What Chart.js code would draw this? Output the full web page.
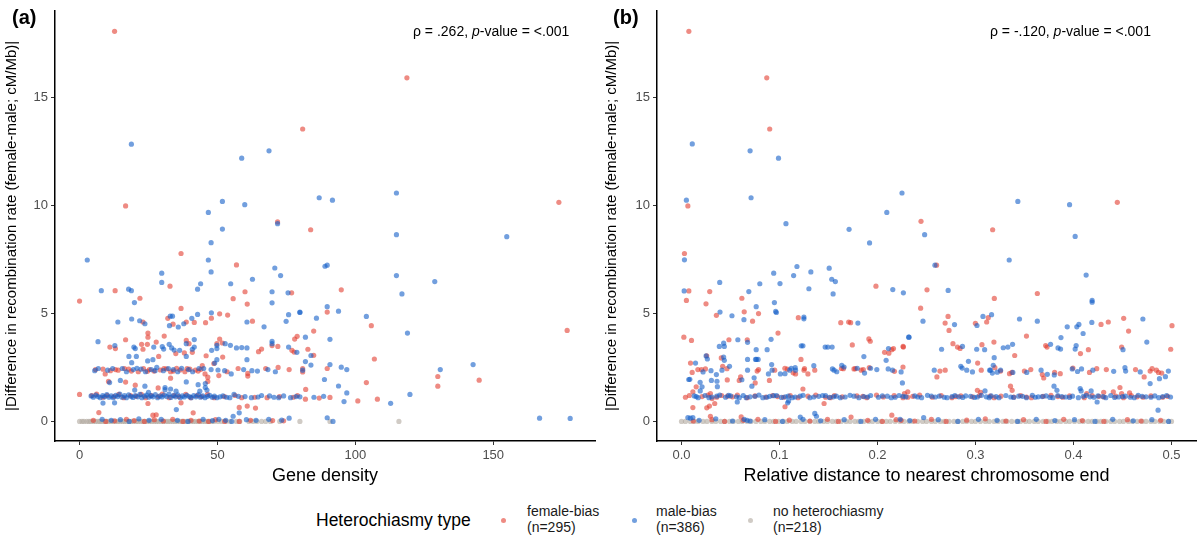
<!DOCTYPE html>
<html>
<head>
<meta charset="utf-8">
<script src="https://cdn.jsdelivr.net/npm/chart.js@4.4.0/dist/chart.umd.min.js"></script>
<style>
  html, body { margin: 0; padding: 0; background: #fff; }
  body { width: 1200px; height: 540px; position: relative; overflow: hidden; font-family: "Liberation Sans", Arial, sans-serif; color: #000; }
  canvas { position: absolute; top: 0; }
  .tag { position: absolute; top: 6px; font-weight: bold; font-size: 20px; }
  .stat { position: absolute; top: 23px; font-size: 14px; white-space: nowrap; }
  .legend { position: absolute; top: 503px; font-size: 14px; line-height: 16px; color: #1a1a1a; white-space: nowrap; }
  .legend-title { position: absolute; top: 510px; left: 316px; font-size: 17.5px; white-space: nowrap; }
  .dot { position: absolute; top: 518px; width: 5px; height: 5px; border-radius: 50%; }
</style>
</head>
<body>
<canvas id="chartA" width="600" height="495" style="left:0"></canvas>
<canvas id="chartB" width="600" height="495" style="left:600px"></canvas>

<div class="tag" style="left:12px">(a)</div>
<div class="tag" style="left:613px">(b)</div>
<div class="stat" style="left:413px">&rho; = .262, <i>p</i>-value = &lt;.001</div>
<div class="stat" style="left:990px">&rho; = -.120, <i>p</i>-value = &lt;.001</div>

<div class="legend-title">Heterochiasmy type</div>
<div class="dot" style="left:501px; background:rgba(226,62,48,0.6)"></div>
<div class="legend" style="left:527px">female-bias<br>(n=295)</div>
<div class="dot" style="left:632px; background:rgba(20,95,200,0.6)"></div>
<div class="legend" style="left:656px">male-bias<br>(n=386)</div>
<div class="dot" style="left:748px; background:rgba(176,169,159,0.6)"></div>
<div class="legend" style="left:773px">no heterochiasmy<br>(n=218)</div>

<script>
// ===========================
// Data
// ===========================

const yTicks = [0, 5, 10, 15];
const xTicksA = [0, 50, 100, 150];
const xTicksB = [0, 0.1, 0.2, 0.3, 0.4, 0.5];

// (a) gene density vs |difference|
const aFemale = [
  [12.7,18.05],[118.7,15.9],[80.9,13.53],[16.7,9.97],[71.8,9.23],[83.8,8.87],[36.8,7.77],[56.9,7.24],[173.8,10.14],
  [32.8,6.26],[12.9,6.05],[60.0,6.0],[76.9,5.95],[21.9,5.7],[55.7,5.68],[0,5.57],[60.8,5.43],[94.9,6.09],[89.8,5.06],
  [105.8,4.43],[84.9,4.18],[176.8,4.21],[82.8,3.34],[84.9,3.06],[106.9,2.89],[80.9,2.45],[80.9,2.29],[89.8,2.45],
  [129.9,2.08],[129.9,1.63],[144.9,1.91],[104,1.8],[82,1.48],[81.9,1.03],[86.9,1.08],[90.8,1.11],[100.9,0.95],[108,1.03],
  [16.7,3.78],[23,4.6],[24.8,4.09],[24.8,3.9],[27.8,3.67],[30.7,3.95],[32,4.77],[33.9,4.5],[36.8,5.23],[38.7,4.6],
  [41.6,4.58],[45.7,4.57],[47.8,4.78],[50.8,4.98],[53.7,4.92],[62.7,4.64],[24.6,3.57],[23,3.34],[11,3.44],[13,3.37],
  [22.5,3.57],[28.7,3.01],[34.9,3.14],[38,3.17],[38.7,3.75],[39.7,3.6],[40.9,3.2],[45.9,3.04],[49.8,3.6],[50.8,3.81],
  [51.8,3.63],[51.9,2.98],[48.7,2.68],[64.9,3.23],[66,3.35],[69.8,3.51],[71.9,3.47],[77.8,3.21],[77,3.29],[78,3.81],[78.9,3.94],
  [5.8,2.4],[8.5,2.42],[9.3,2.2],[13,2.4],[14,2.37],[17.8,2.42],[18.8,2.33],[21.3,2.3],[23.2,2.44],[25.3,2.4],[27,2.33],
  [29.3,2.38],[31.5,2.43],[33,2.3],[35.2,2.46],[36.5,2.38],[38.2,2.3],[40,2.42],[42,2.38],[44,2.41],[45.5,2.2],[46.5,2.05],
  [50.5,2.12],[53.5,2.3],[57.5,2.45],[61,2.22],[61,2.1],[67.5,2.45],[72,2.5],[76,2.4],
  [11.2,2.35],[16.3,2.45],[24.6,2.32],[30.6,2.45],[34,2.33],[39,2.45],[43,2.33],
  [7.0,0.41],[24.8,0.83],[26.6,0.29],[27.8,0.31],[36.8,0.86],[41.2,0.4],[57.9,0.65],[60.8,0.71],[63.8,0.62],
  [10.5,1.85],[16.7,1.82],[20.2,1.68],[28.5,1.55],[33,2.0],[44.5,2.58],[46.5,1.85],
  [0,1.25],[4.5,1.2],[6.2,1.26],[8.5,1.12],[10,1.2],[12.5,1.15],[14.2,1.25],[16,1.1],[18.5,1.2],[20.5,1.16],[22.4,1.25],
  [24,1.1],[26,1.2],[28.5,1.15],[30,1.26],[32.5,1.1],[34.3,1.2],[36,1.15],[38.5,1.25],[40.3,1.1],[42.6,1.2],[44.2,1.15],
  [46.4,1.25],[48.8,1.1],[52.5,1.15],[56.4,1.2],[58.8,1.1],[63.5,1.12],[68,1.1],[72.5,1.15],[77.5,1.12],[79,1.2],
  [5,0.05],[9.5,0],[12.7,0.03],[17,0.1],[19.8,0.04],[23.5,0],[27.1,0.08],[30.4,0.02],[33.8,0.1],[37.5,0],[40.4,0.05],
  [43.4,0.02],[46.8,0],[49.3,0.08],[52.6,0],[57.9,0],[62,0.05],[70,0.04],[74,0.03]
];

const aMale = [
  [18.8,12.83],[58.8,12.18],[68.7,12.52],[51.8,10.18],[59.9,10.03],[46.7,9.67],[86.9,10.35],[91.7,10.24],[71.8,9.15],
  [51.8,8.9],[47.7,8.27],[2.8,7.47],[46.7,7.47],[47.7,6.92],[70.8,7.1],[72.9,6.75],[62.7,6.58],[29.8,6.86],[29.8,6.43],
  [43.9,6.37],[42.8,6.12],[54.8,6.37],[7.9,6.05],[17.8,6.12],[18.8,6.05],[69.8,6.0],[75.6,5.95],[89,7.18],[89.8,7.23],
  [114.9,10.57],[114.9,8.64],[154.9,8.55],[114.9,6.75],[128.8,6.47],[116.9,5.9],[79.9,5.06],[89.8,5.31],[93.9,5.1],
  [85.9,4.78],[104,4.86],[118.9,4.09],[81.9,3.9],[90.8,3.8],[83.9,3.05],[81.9,2.77],[83.9,2.61],[90.8,2.63],[94.9,2.51],
  [96.9,2.4],[80.9,2.37],[130.8,2.4],[142.7,2.63],[88.8,1.94],[93.9,1.64],[96.9,1.32],[79.9,1.14],[95.9,0.92],[112.8,0.84],
  [119.8,1.25],[89.8,0.17],[91.9,0],[166.8,0.15],[177.9,0.14],
  [19.9,5.5],[69.8,5.49],[6.7,3.69],[13.9,4.6],[18.9,4.74],[21.8,4.66],[23.7,4.52],[32.9,4.87],[33.7,4.87],[32.6,4.43],
  [35.8,4.37],[37.8,4.52],[40.7,4.77],[42.8,4.95],[47.8,5.03],[60.7,4.6],[66.9,4.38],[74.9,4.63],[75.8,4.94],[79.9,5.04],
  [19.7,3.44],[20.2,3.37],[12.8,3.51],[17.9,3.01],[18.9,2.72],[20.6,3.01],[24.7,2.8],[26.6,2.86],[26.9,3.44],[30,3.46],
  [30.5,3.35],[32.5,3.57],[33.4,3.4],[34.3,3.3],[36.3,3.29],[38.7,3.01],[38.7,3.6],[41.6,3.79],[41.6,3.44],[40.9,3.34],
  [47.9,3.29],[49.8,3.37],[49.8,3.52],[49,2.7],[52.8,3.6],[54.7,3.52],[56.9,3.4],[58.8,3.42],[60.7,3.4],[49.8,2.86],
  [60.7,2.86],[69.8,3.6],[69.8,3.71],[75.8,3.44],[78.8,3.2],
  [14.8,1.9],[10.9,1.8],[23.7,1.63],[31,1.57],[31,1.47],[38.7,1.83],[45.6,1.75],[45.6,1.57],[12.7,0.86],[35.1,0.55],
  [55.7,0.24],[57.9,0.4],[8.5,0.85],[43,1.7],
  [6.8,2.45],[10.2,2.37],[15.5,2.45],[19.5,2.4],[20.8,2.46],[23.9,2.3],[26,2.4],[28,2.5],[30.4,2.35],[32.2,2.45],[34,2.4],
  [37,2.46],[39.5,2.4],[41,2.3],[43.3,2.45],[47.7,2.4],[52.6,2.35],[55,2.2],[59.5,2.4],[62.5,2.35],[64.5,2.33],[68.3,2.4],[71,2.3],
  [5.5,2.35],[12,2.45],[17,2.3],[22.3,2.42],[27.4,2.35],[35.6,2.3],[45,2.45],[50.2,2.38],
  [4.2,1.18],[5.0,1.12],[5.9,1.22],[6.7,1.15],[7.5,1.1],[8.4,1.2],[9.1,1.14],[9.9,1.24],[10.7,1.12],[11.5,1.18],[12.2,1.1],
  [13.1,1.21],[13.8,1.15],[14.6,1.26],[15.4,1.12],[16.3,1.19],[17.0,1.1],[17.8,1.23],[18.7,1.15],[19.4,1.11],[20.2,1.2],
  [21.1,1.14],[21.9,1.25],[22.6,1.1],[23.5,1.17],[24.3,1.22],[25.1,1.12],[25.9,1.19],[26.6,1.14],[27.5,1.24],[28.3,1.1],
  [29.2,1.18],[29.9,1.13],[30.7,1.22],[31.6,1.15],[32.4,1.26],[33.1,1.11],[34.0,1.2],[34.8,1.14],[35.6,1.23],[36.5,1.1],
  [37.3,1.18],[38.0,1.13],[38.9,1.21],[39.8,1.15],[40.5,1.1],[41.4,1.2],[42.2,1.14],[43.1,1.24],[43.8,1.12],[44.7,1.18],
  [45.5,1.1],[46.4,1.16],[47.2,1.21],[48.1,1.12],[48.9,1.17],[49.8,1.1],[50.9,1.14],
  [52,1.18],[54.5,1.1],[56,1.25],[60,1.15],[62.3,1.1],[66,1.2],[70.5,1.12],[74,1.18],[76.5,1.1],[43.6,1.4],[35,1.4],
  [33,1.5],[46.2,1.45],[25,1.35],[20,1.45],
  [53.3,1.12],[57.6,1.16],[64.7,1.13],[68.9,1.18],[72.2,1.1],[78.5,1.15],[85,1.12],[88.5,1.16],
  [8.2,0.1],[11.5,0.05],[14.8,0.08],[18,0],[21.5,0.12],[25.2,0.05],[29.6,0.1],[35.5,0.05],[39.3,0],[44.8,0.1],[48.2,0.04],
  [50.5,0.1],[53,0.05],[55.2,0],[60.5,0.08],[64,0.05],[68.6,0.1],[73.3,0.06],[76,0.15]
];

const aNone = [
  [0,0],[0.9,0],[1.6,0],[2.6,0],[3.4,0],[4.1,0],[5.0,0],[5.8,0],[6.7,0],[7.4,0],[8.1,0],[9.0,0],[9.8,0],[10.6,0],
  [11.4,0],[12.2,0],[13.1,0],[13.9,0],[14.7,0],[15.6,0],[16.3,0],[17.1,0],[18.0,0],[18.8,0],[19.6,0],[20.5,0],[21.2,0],
  [22.1,0],[22.9,0],[23.7,0],[24.6,0],[25.4,0],[26.2,0],[27.1,0],[27.9,0],[28.7,0],[29.6,0],[30.4,0],[31.3,0],[32.1,0],
  [32.9,0],[33.8,0],[34.6,0],[35.4,0],[36.3,0],[37.1,0],[37.9,0],[38.8,0],[39.6,0],[40.5,0],[41.3,0],[42.1,0],[43.0,0],
  [43.8,0],[44.6,0],[45.5,0],[46.3,0],[47.1,0],[48.0,0],[48.8,0],[50.2,0],[51.5,0],[53.1,0],[54.6,0],[56.8,0],[58.1,0],
  [61.4,0],[62.9,0],[64.3,0],[66.0,0],[67.5,0],[69.2,0],[72.6,0],[79.9,0],[90.8,0],[115.8,0]
];

// (b) relative distance to chromosome end vs |difference|
const bFemale = [
  [0.0075,18.05],[0.087,15.9],[0.090,13.53],[0.0065,9.97],[0.2444,9.26],[0.003,7.77],[0.0075,6.04],[0.0288,6.01],
  [0.0616,5.7],[0.1984,6.26],[0.005,5.6],[0.4447,10.14],[0.3175,8.87],[0.2603,7.23],[0.2505,6.09],[0.3192,5.69],
  [0.3631,5.92],[0.244,5.24],[0.269,4.55],[0.272,4.86],[0.273,4.21],[0.2999,4.54],[0.3114,4.6],[0.313,4.8],[0.3188,3.67],
  [0.3198,2.49],[0.2261,3.47],[0.277,3.6],[0.2816,3.44],[0.2843,3.38],[0.3066,3.55],[0.34,3.05],[0.352,3.95],[0.3716,3.51],
  [0.373,3.44],[0.4071,3.14],[0.4152,3.32],[0.4281,4.49],[0.4355,4.6],[0.4512,4.77],[0.4562,4.18],[0.4491,3.44],
  [0.5005,4.43],[0.4992,3.34],
  [0.025,5.44],[0.0356,4.91],[0.064,5.07],[0.0725,4.64],[0.0786,4.99],[0.1192,4.8],[0.1625,4.57],[0.1706,4.6],[0.1726,4.57],
  [0.0024,3.9],[0.0102,3.75],[0.0092,2.7],[0.0109,2.27],[0.0116,1.37],[0.0116,0.64],[0.015,1.6],[0.0167,2.4],[0.0204,2.4],
  [0.0244,2.43],[0.0258,0.63],[0.0295,0.24],[0.0285,0.71],[0.0257,3.04],[0.0295,1.29],[0.0312,1.06],[0.0339,0.83],
  [0.0406,2.94],[0.042,2.55],[0.0464,2.44],[0.0467,1.92],[0.0484,3.78],[0.0589,1.9],[0.0603,2.06],[0.0671,3.78],[0.0609,0.21],
  [0.0772,2.33],[0.0786,2.4],[0.0752,1.78],[0.0897,1.9],[0.0951,2.37],[0.0985,4.09],[0.1056,0.68],[0.1055,2.46],[0.108,2.42],
  [0.114,2.25],[0.1164,2.2],[0.125,2.37],[0.1255,2.45],[0.129,2.2],[0.1219,2.87],[0.1239,1.5],[0.136,2.37],[0.1455,0.83],
  [0.1632,2.45],[0.1652,2.44],[0.1743,3.54],[0.176,2.43],[0.1773,2.44],[0.1834,2.37],[0.1855,2.4],[0.1916,2.49],[0.1912,3.82],
  [0.1926,3.71],[0.2072,3.2],[0.2116,3.16],[0.2146,3.32],[0.2163,3.37],[0.2173,2.32],[0.226,2.52],[0.2264,3.44],[0.2146,0.29],
  [0.2241,0.05],
  [0.2606,2.06],[0.2637,2.33],[0.2691,2.37],[0.3022,2.7],[0.3059,2.37],[0.3256,2.33],[0.3347,2.21],[0.3371,2.27],[0.3499,2.33],
  [0.3564,2.4],[0.3682,2.17],[0.3696,2.01],[0.3807,2.27],[0.3865,2.21],[0.3994,2.47],[0.4163,2.27],[0.4237,2.44],[0.4335,2.4],
  [0.4633,2.4],[0.4721,2.06],[0.4782,2.33],[0.4802,2.44],[0.4846,2.37],[0.4867,2.27],[0.49,2.24],
  [0.2309,1.37],[0.3019,1.44],[0.3053,1.35],[0.3357,1.63],[0.3374,1.44],[0.4135,1.29],[0.4308,1.35],[0.4406,1.37],
  [0.4474,1.57],[0.4491,1.29],[0.4572,1.32],[0.2275,1.29],
  [0.008,1.2],[0.021,1.15],[0.027,1.22],[0.036,1.12],[0.041,1.2],[0.052,1.14],[0.057,1.22],[0.067,1.1],[0.075,1.18],
  [0.086,1.13],[0.093,1.2],[0.104,1.12],[0.111,1.19],[0.119,1.1],[0.129,1.17],[0.137,1.22],[0.147,1.12],[0.156,1.2],
  [0.164,1.14],[0.179,1.18],[0.189,1.1],[0.199,1.22],[0.206,1.13],[0.217,1.19],[0.226,1.1],[0.236,1.16],[0.243,1.22],
  [0.256,1.12],[0.265,1.2],[0.276,1.1],[0.285,1.18],[0.297,1.14],[0.304,1.2],[0.319,1.1],[0.326,1.17],[0.339,1.13],
  [0.346,1.2],[0.357,1.1],[0.369,1.16],[0.377,1.21],[0.389,1.12],[0.396,1.18],[0.411,1.1],[0.419,1.2],[0.431,1.13],
  [0.443,1.17],[0.451,1.1],[0.459,1.2],[0.471,1.12],[0.479,1.18],[0.491,1.12],
  [0.004,1.12],[0.047,1.17],[0.098,1.15],[0.152,1.1],[0.185,1.16],[0.231,1.12],[0.28,1.15],[0.315,1.17],[0.352,1.13],
  [0.384,1.15],[0.426,1.16],[0.465,1.14],[0.496,1.16],
  [0.012,0.02],[0.031,0.08],[0.044,0],[0.063,0.05],[0.078,0.1],[0.096,0],[0.11,0.06],[0.131,0.02],[0.149,0.1],[0.16,0],
  [0.173,0.2],[0.19,0.05],[0.205,0],[0.219,0.08],[0.238,0.02],[0.255,0.1],[0.27,0],[0.291,0.06],[0.31,0.12],[0.331,0.02],
  [0.349,0.08],[0.372,0],[0.39,0.1],[0.409,0.04],[0.431,0],[0.455,0.08],[0.469,0.02],[0.489,0.05]
];

const bMale = [
  [0.011,12.84],[0.070,12.52],[0.099,12.18],[0.005,10.24],[0.071,10.35],[0.2095,9.67],[0.225,10.57],[0.1066,9.15],
  [0.171,8.89],[0.1919,8.26],[0.003,7.48],[0.1178,7.17],[0.1144,6.75],[0.0941,6.86],[0.1005,6.38],[0.0799,6.37],
  [0.132,6.92],[0.1507,7.09],[0.1533,6.58],[0.157,6.47],[0.039,6.43],[0.0687,6.01],[0.130,6.14],[0.1547,5.9],[0.2156,6.1],
  [0.2264,5.95],[0.0027,6.04],[0.3432,10.18],[0.396,10.03],[0.2481,8.64],[0.4017,8.56],[0.3344,7.47],[0.2586,7.23],
  [0.4129,6.77],[0.2721,6.06],[0.419,5.6],[0.2464,4.64],[0.2786,4.48],[0.3015,4.44],[0.3076,4.86],[0.3164,4.94],
  [0.3191,2.95],[0.3181,2.6],[0.3222,2.28],[0.3154,2.37],[0.3256,2.37],[0.2318,3.9],[0.2654,3.34],[0.2867,3.47],
  [0.3012,3.34],[0.3093,3.32],[0.3283,3.41],[0.333,3.44],[0.3378,3.57],[0.3449,4.74],[0.3631,4.64],[0.3766,3.57],
  [0.3842,3.4],[0.3868,3.35],[0.3872,3.88],[0.3936,4.38],[0.4034,4.38],[0.4055,4.49],[0.4017,3.35],[0.4027,3.51],
  [0.4098,4.07],[0.419,5.52],[0.4187,4.58],[0.4708,4.74],[0.4748,3.67],[0.4505,3.32],
  [0.0393,5.06],[0.0637,4.71],[0.0515,4.89],[0.0762,5.31],[0.0948,5.5],[0.0961,5.09],[0.0968,5.04],[0.1249,4.83],
  [0.1249,4.75],[0.18,4.55],[0.0085,1.95],[0.0074,1.94],[0.0143,2.7],[0.0065,0.18],[0.009,0.15],[0.0116,0.18],[0.019,1.81],
  [0.021,1.6],[0.0191,1.41],[0.022,2.29],[0.0251,3.03],[0.0264,2.89],[0.0301,2.35],[0.0305,1.9],[0.0356,2.17],[0.0362,1.86],
  [0.0366,1.61],[0.0386,3.47],[0.043,3.62],[0.0437,3.47],[0.043,2.98],[0.0437,2.83],[0.0413,2.37],[0.049,2.55],[0.0575,3.78],
  [0.0674,2.37],[0.0674,2.87],[0.0674,3.66],[0.0616,1.93],[0.0569,0.9],[0.064,0.1],[0.067,0.05],[0.07,0.02],[0.0718,1.63],
  [0.0741,2.02],[0.0755,2.87],[0.0765,2.87],[0.0782,2.87],[0.0762,3.32],[0.0874,3.32],[0.0914,3.8],[0.0887,2.2],[0.0924,2.37],
  [0.092,2.63],[0.1083,0.86],[0.1093,0.95],[0.1009,2.2],[0.1056,2.21],[0.1104,2.37],[0.112,2.46],[0.1164,2.37],[0.116,2.49],
  [0.1222,3.5],[0.1239,3.5],[0.1212,0.2],[0.135,2.58],[0.136,0.37],[0.1377,0.24],[0.1466,3.44],[0.1493,3.44],[0.1537,3.44],
  [0.154,2.43],[0.1557,2.37],[0.1584,2.3],[0.1635,2.6],[0.1659,2.52],[0.1793,2.46],[0.1861,3.0],[0.1868,2.24],[0.1929,2.46],
  [0.1993,2.4],[0.2112,3.37],[0.2088,2.83],[0.2109,2.43],[0.2153,2.37],[0.2241,2.29],[0.2254,1.78],[0.2322,3.9],[0.2231,0.1],
  [0.2579,2.37],[0.285,2.55],[0.2864,2.47],[0.2911,2.37],[0.2928,2.78],[0.2969,2.29],[0.3144,2.37],[0.3172,2.24],[0.3381,2.27],
  [0.3523,2.27],[0.3669,2.37],[0.3733,2.18],[0.3804,2.15],[0.3987,2.43],[0.4041,2.31],[0.4082,2.43],[0.4197,2.37],[0.441,2.32],
  [0.4525,2.49],[0.4532,2.33],[0.4681,2.29],[0.4782,1.75],[0.4877,1.98],[0.4938,2.07],[0.4968,2.33],[0.3801,1.63],
  [0.3097,1.41],[0.3831,1.44],[0.4068,1.52],[0.4078,1.41],[0.418,1.41],[0.4241,0.9],[0.4863,0.52],[0.2471,0.18],
  [0.013,1.18],[0.017,1.1],[0.024,1.2],[0.031,1.13],[0.039,1.22],[0.045,1.12],[0.05,1.18],[0.059,1.1],[0.063,1.2],
  [0.07,1.14],[0.079,1.22],[0.083,1.1],[0.09,1.16],[0.097,1.2],[0.102,1.11],[0.109,1.17],[0.116,1.13],[0.124,1.21],
  [0.131,1.1],[0.14,1.16],[0.144,1.2],[0.151,1.11],[0.158,1.17],[0.167,1.13],[0.172,1.21],[0.181,1.1],[0.186,1.15],
  [0.193,1.2],[0.201,1.12],[0.21,1.17],[0.214,1.1],[0.222,1.2],[0.229,1.14],[0.238,1.18],[0.245,1.1],[0.251,1.21],
  [0.259,1.13],[0.263,1.17],[0.271,1.1],[0.279,1.2],[0.283,1.14],[0.29,1.18],[0.299,1.11],[0.306,1.21],[0.311,1.14],
  [0.316,1.18],[0.324,1.1],[0.331,1.2],[0.336,1.13],[0.344,1.17],[0.352,1.1],[0.358,1.21],[0.364,1.14],[0.372,1.18],
  [0.379,1.1],[0.384,1.2],[0.392,1.13],[0.399,1.17],[0.405,1.1],[0.413,1.21],[0.417,1.14],[0.425,1.18],[0.433,1.1],
  [0.438,1.2],[0.446,1.13],[0.453,1.17],[0.462,1.1],[0.466,1.21],[0.474,1.14],[0.483,1.18],[0.487,1.1],[0.495,1.2],[0.499,1.13],
  [0.015,1.15],[0.028,1.1],[0.036,1.17],[0.048,1.21],[0.056,1.14],[0.066,1.1],[0.075,1.16],[0.087,1.12],[0.094,1.19],
  [0.106,1.14],[0.113,1.1],[0.121,1.17],[0.135,1.13],[0.147,1.19],[0.155,1.14],[0.162,1.1],[0.176,1.17],[0.19,1.13],
  [0.205,1.18],[0.218,1.12],[0.226,1.16],[0.241,1.13],[0.255,1.17],[0.268,1.12],[0.276,1.15],[0.287,1.11],[0.295,1.16],
  [0.302,1.13],[0.314,1.1],[0.321,1.15],[0.339,1.11],[0.348,1.16],[0.361,1.12],[0.368,1.15],[0.376,1.11],[0.388,1.15],
  [0.396,1.11],[0.41,1.16],[0.421,1.12],[0.43,1.15],[0.442,1.11],[0.45,1.15],[0.458,1.12],[0.47,1.16],[0.479,1.12],[0.491,1.15],
  [0.018,0.05],[0.035,0.12],[0.052,0.02],[0.085,0.08],[0.103,0],[0.124,0.1],[0.142,0.03],[0.166,0.08],[0.183,0],
  [0.198,0.1],[0.233,0.04],[0.262,0.08],[0.282,0],[0.303,0.1],[0.322,0.05],[0.343,0],[0.362,0.1],[0.381,0.04],
  [0.401,0.08],[0.422,0],[0.44,0.1],[0.461,0.03],[0.48,0.08],[0.497,0]
];

const bNone = [
  [0,0],[0.004,0],[0.009,0],[0.013,0],[0.017,0],[0.022,0],[0.026,0],[0.031,0],[0.035,0],[0.04,0],[0.044,0],[0.049,0],
  [0.053,0],[0.058,0],[0.062,0],[0.067,0],[0.071,0],[0.076,0],[0.081,0],[0.085,0],[0.09,0],[0.094,0],[0.099,0],[0.104,0],
  [0.108,0],[0.113,0],[0.117,0],[0.122,0],[0.126,0],[0.131,0],[0.136,0],[0.14,0],[0.145,0],[0.149,0],[0.154,0],[0.158,0],
  [0.163,0],[0.168,0],[0.172,0],[0.177,0],[0.181,0],[0.186,0],[0.191,0],[0.195,0],[0.2,0],[0.204,0],[0.209,0],[0.213,0],
  [0.218,0],[0.223,0],[0.227,0],[0.232,0],[0.236,0],[0.241,0],[0.246,0],[0.25,0],[0.255,0],[0.259,0],[0.264,0],[0.268,0],
  [0.273,0],[0.278,0],[0.282,0],[0.287,0],[0.291,0],[0.296,0],[0.3,0],[0.305,0],[0.31,0],[0.314,0],[0.319,0],[0.323,0],
  [0.328,0],[0.332,0],[0.337,0],[0.342,0],[0.346,0],[0.351,0],[0.355,0],[0.36,0],[0.364,0],[0.369,0],[0.374,0],[0.378,0],
  [0.383,0],[0.387,0],[0.392,0],[0.396,0],[0.401,0],[0.406,0],[0.41,0],[0.415,0],[0.419,0],[0.424,0],[0.428,0],[0.433,0],
  [0.438,0],[0.442,0],[0.447,0],[0.451,0],[0.456,0],[0.46,0],[0.465,0],[0.47,0],[0.474,0],[0.479,0],[0.483,0],[0.488,0],
  [0.492,0],[0.497,0],[0.5,0]
];

// ===========================
// Helpers
// ===========================

const FONT = "'Liberation Sans', Arial, sans-serif";

const toPoints = (rows) => rows.map(([x, y]) => ({ x, y }));

function pointSet(label, rows, color) {
  return {
    label,
    data: toPoints(rows),
    backgroundColor: color,
    borderWidth: 0,
    pointRadius: 2.6,
    pointHoverRadius: 2.6,
  };
}

function makeChart(id, female, male, none, xRange, xTicks, xTitle, padRight, yWidth, fmt) {
  const ctx = document.getElementById(id).getContext("2d");

  return new Chart(ctx, {
    type: "scatter",
    data: {
      datasets: [
        pointSet("male-bias", male, "rgba(20, 95, 200, 0.6)"),
        pointSet("female-bias", female, "rgba(226, 62, 48, 0.6)"),
        pointSet("no heterochiasmy", none, "rgba(176, 169, 159, 0.6)"),
      ],
    },
    options: {
      responsive: false,
      animation: false,
      events: [],
      layout: { padding: { left: 0, right: padRight, top: 8, bottom: 0 } },
      plugins: { legend: { display: false }, tooltip: { enabled: false } },
      scales: {
        x: {
          type: "linear",
          min: xRange[0],
          max: xRange[1],
          afterBuildTicks: (scale) => { scale.ticks = xTicks.map((v) => ({ value: v })); },
          afterFit: (scale) => { scale.height = 54; },
          grid: { drawOnChartArea: false, drawTicks: true, tickLength: 4, color: "#333333" },
          border: { display: true, color: "#000000", width: 1.5 },
          ticks: { color: "#4d4d4d", font: { family: FONT, size: 13 }, padding: 3, maxRotation: 0, callback: fmt },
          title: { display: true, text: xTitle, color: "#000000", font: { family: FONT, size: 18 }, padding: { top: 0, bottom: 8 } },
        },
        y: {
          type: "linear",
          min: -0.905,
          max: 19.0,
          afterBuildTicks: (scale) => { scale.ticks = yTicks.map((v) => ({ value: v })); },
          afterFit: (scale) => { scale.width = yWidth; },
          grid: { drawOnChartArea: false, drawTicks: true, tickLength: 4, color: "#333333" },
          border: { display: true, color: "#000000", width: 1.5 },
          ticks: { color: "#4d4d4d", font: { family: FONT, size: 13 }, padding: 3 },
          title: {
            display: true,
            text: "|Difference in recombination rate (female-male; cM/Mb)|",
            color: "#000000",
            font: { family: FONT, size: 15 },
            padding: { top: 3, bottom: 0 },
          },
        },
      },
    },
  });
}

// ===========================
// Create Charts
// ===========================

makeChart("chartA", aFemale, aMale, aNone, [-8.9, 186.9], xTicksA, "Gene density", 5, 55, (v) => v);
makeChart("chartB", bFemale, bMale, bNone, [-0.025, 0.525], xTicksB, "Relative distance to nearest chromosome end", 4, 57, (v) => Number(v).toFixed(1));
</script>
</body>
</html>
